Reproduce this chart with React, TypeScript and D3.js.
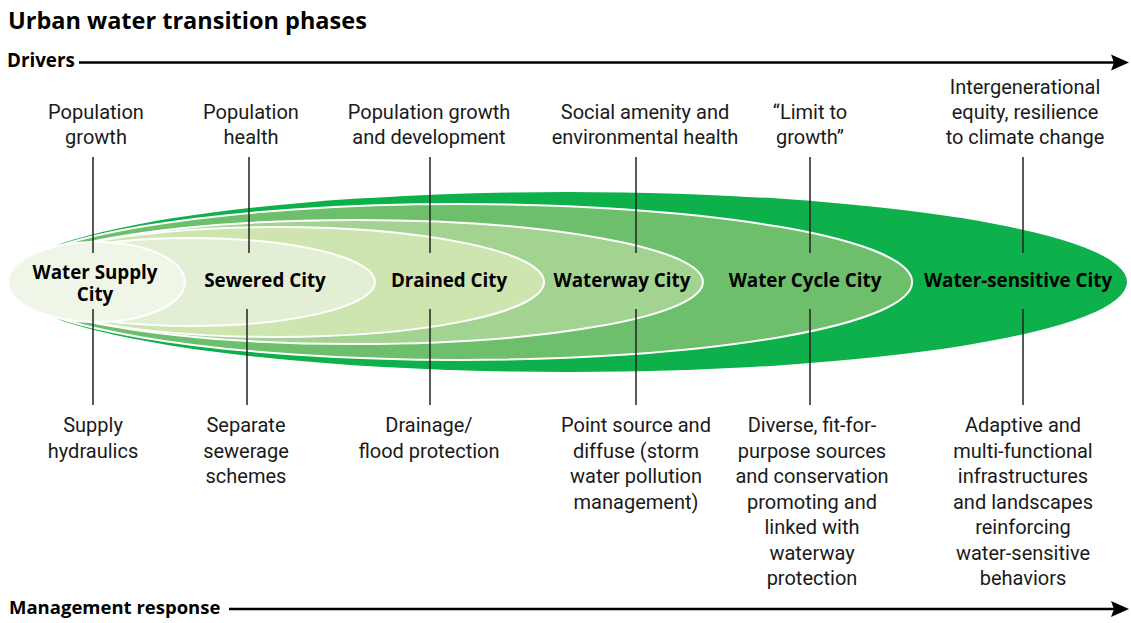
import React from 'react';
import * as d3 from 'd3';

// phases, innermost first
const phaseNames: string[][] = [
  ['Water Supply', 'City'],
  ['Sewered City'],
  ['Drained City'],
  ['Waterway City'],
  ['Water Cycle City'],
  ['Water-sensitive City'],
];
// how far each phase reaches along the transition axis (0-100)
const phaseReach = [15.8, 32.8, 47.9, 62.1, 80.8, 100];
// half-height of each ellipse (px)
const phaseSpread = [40, 44, 55, 62, 78, 90];
const phaseColors = ['#eff6e7', '#e3efd4', '#cfe5b0', '#a3d391', '#6dbf6b', '#0db04b'];

const driverTexts: string[][] = [
  ['Population', 'growth'],
  ['Population', 'health'],
  ['Population growth', 'and development'],
  ['Social amenity and', 'environmental health'],
  ['\u201cLimit to', 'growth\u201d'],
  ['Intergenerational', 'equity, resilience', 'to climate change'],
];

const responseTexts: string[][] = [
  ['Supply', 'hydraulics'],
  ['Separate', 'sewerage', 'schemes'],
  ['Drainage/', 'flood protection'],
  ['Point source and', 'diffuse (storm', 'water pollution', 'management)'],
  ['Diverse, fit-for-', 'purpose sources', 'and conservation', 'promoting and', 'linked with', 'waterway', 'protection'],
  ['Adaptive and', 'multi-functional', 'infrastructures', 'and landscapes', 'reinforcing', 'water-sensitive', 'behaviors'],
];

// layout (px)
const labelX = [95, 265, 449, 622, 805, 1018];
const topLineX = [93, 249, 430, 636, 810, 1023];
const bottomLineX = [93, 247, 430, 636, 810, 1023];
const driverX = [96, 251, 429, 645, 810, 1025];
const responseX = [93, 246, 429, 636, 812, 1023];

const W = 1131;
const H = 623;
const CY = 282;
const FONT = 'Roboto, "Open Sans", sans-serif';
const BOLD = '"Open Sans", Roboto, sans-serif';

export default function App() {
  const x = d3.scaleLinear().domain([0, 100]).range([8, 1127]);
  const lineH = 25.5;

  const arrow = (y: number, x0: number) => {
    const path = d3.path();
    path.moveTo(1129, y);
    path.lineTo(1111, y - 8);
    path.lineTo(1114, y);
    path.lineTo(1111, y + 8);
    path.closePath();
    return (
      <g>
        <line x1={x0} x2={1115} y1={y} y2={y} stroke="#000" strokeWidth={2.5} />
        <path d={path.toString()} fill="#000" />
      </g>
    );
  };

  const order = d3.range(phaseNames.length).reverse();

  return (
    <svg width={W} height={H} style={{ position: 'absolute', left: 0, top: 0, background: '#fff' }} fontFamily={FONT}>
      <text x={8} y={29} fontFamily={BOLD} fontSize={23.5} fontWeight={700} fill="#000">Urban water transition phases</text>

      <text x={7} y={67} fontFamily={BOLD} fontSize={18.8} fontWeight={700} fill="#000">Drivers</text>
      {arrow(62.5, 79)}

      <text x={9} y={614} fontFamily={BOLD} fontSize={18.5} fontWeight={700} fill="#000">Management response</text>
      {arrow(609, 229)}

      {order.map((i) => {
        const x0 = x(0);
        const x1 = x(phaseReach[i]);
        return (
          <ellipse
            key={'e' + i}
            cx={(x0 + x1) / 2}
            cy={CY}
            rx={(x1 - x0) / 2}
            ry={phaseSpread[i]}
            fill={phaseColors[i]}
            stroke={i === phaseNames.length - 1 ? 'none' : '#fff'}
            strokeWidth={2}
          />
        );
      })}

      {phaseNames.map((lines, i) => (
        <g key={'l' + i}>
          <line x1={topLineX[i]} x2={topLineX[i]} y1={157} y2={253} stroke="#222" strokeWidth={1.5} />
          <line x1={bottomLineX[i]} x2={bottomLineX[i]} y1={309} y2={405} stroke="#222" strokeWidth={1.5} />
          <text textAnchor="middle" fontFamily={BOLD} fontSize={18.8} fontWeight={700} fill="#000">
            {lines.map((t, j) => (
              <tspan key={j} x={labelX[i]} y={lines.length > 1 ? 279 + j * 21.5 : 287}>{t}</tspan>
            ))}
          </text>
        </g>
      ))}

      {driverTexts.map((lines, i) => (
        <text key={'d' + i} textAnchor="middle" fontSize={20} fill="#1a1a1a">
          {lines.map((t, j) => (
            <tspan key={j} x={driverX[i]} y={144 - (lines.length - 1 - j) * 25}>{t}</tspan>
          ))}
        </text>
      ))}

      {responseTexts.map((lines, i) => (
        <text key={'r' + i} textAnchor="middle" fontSize={20} fill="#1a1a1a">
          {lines.map((t, j) => (
            <tspan key={j} x={responseX[i]} y={432 + j * lineH}>{t}</tspan>
          ))}
        </text>
      ))}
    </svg>
  );
}
